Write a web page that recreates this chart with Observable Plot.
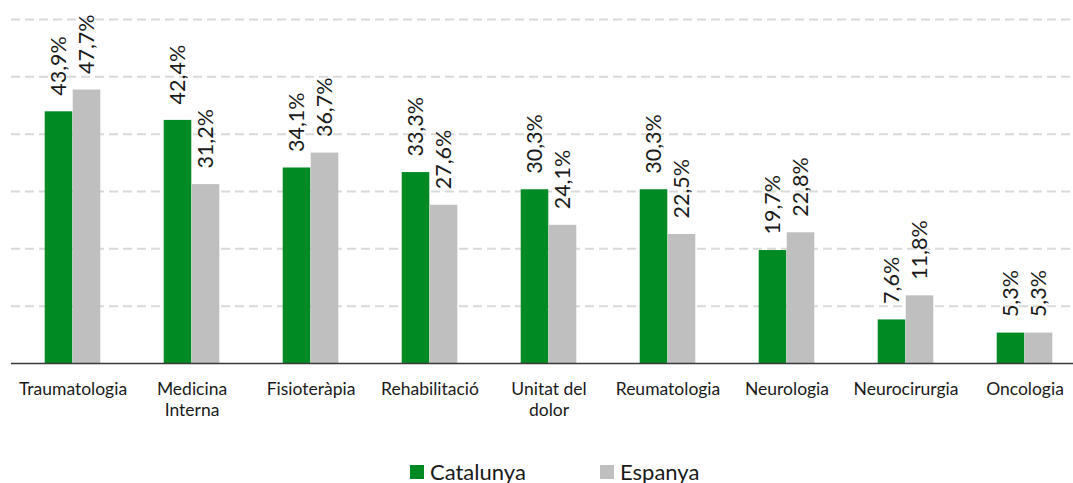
<!DOCTYPE html>
<html>
<head>
<meta charset="utf-8">
<script src="https://cdn.jsdelivr.net/npm/d3@7"></script>
<script src="https://cdn.jsdelivr.net/npm/@observablehq/plot@0.6"></script>
<style>
  html, body { margin: 0; padding: 0; background: #fff; overflow: hidden; width: 1073px; height: 483px; }
  #chart svg { display: block; overflow: hidden; }
  .legend { position: relative; height: 43px; font-family: Lato, "Open Sans", sans-serif; font-size: 22px; color: #1a1a1a; }
  .legend .item { position: absolute; top: 0; display: flex; align-items: center; height: 43px; padding-top: 20px; box-sizing: border-box; }
  .legend .sw { width: 14px; height: 14px; margin-right: 6px; }
</style>
</head>
<body>
<div id="chart"></div>
<div class="legend" id="legend"></div>
<script>
const categories = ["Traumatologia", "Medicina\nInterna", "Fisioteràpia", "Rehabilitació", "Unitat del\ndolor", "Reumatologia", "Neurologia", "Neurocirurgia", "Oncologia"];
const catalunya = [43.9, 42.4, 34.1, 33.3, 30.3, 30.3, 19.7, 7.6, 5.3];
const espanya = [47.7, 31.2, 36.7, 27.6, 24.1, 22.5, 22.8, 11.8, 5.3];
const seriesNames = ["Catalunya", "Espanya"];
const seriesColors = ["#008a23", "#bfbfbf"];
const gridTicks = [10, 20, 30, 40, 50, 60];

const rowsCat = categories.map((c, i) => ({cat: c, value: catalunya[i], series: seriesNames[0]}));
const rowsEsp = categories.map((c, i) => ({cat: c, value: espanya[i], series: seriesNames[1]}));
const fmt = v => v.toFixed(1).replace(".", ",") + "%";

const W = 1073, H = 440;
const bandStart = 11.3, bandEnd = 1086;
const bw = (bandEnd - bandStart) / categories.length;
const barW = 28;
const inner = bw / 2 - barW;

const plot = Plot.plot({
  width: W,
  height: H,
  marginTop: 19,
  marginBottom: 77,
  marginLeft: 11,
  marginRight: 0,
  style: {fontFamily: "Lato, 'Open Sans', sans-serif", color: "#1a1a1a", background: "#fff"},
  x: {domain: categories, range: [bandStart, bandEnd], padding: 0, axis: null},
  y: {domain: [0, 60], axis: null},
  color: {domain: seriesNames, range: seriesColors},
  marks: [
    Plot.ruleY(gridTicks, {stroke: "#d9d9d9", strokeWidth: 2, strokeDasharray: "9,5"}),
    Plot.barY(rowsCat, {x: "cat", y: "value", fill: "series", insetLeft: inner, insetRight: bw / 2}),
    Plot.barY(rowsEsp, {x: "cat", y: "value", fill: "series", insetLeft: bw / 2, insetRight: inner}),
    Plot.ruleY([0], {stroke: "#3a3a3a", strokeWidth: 1.5}),
    Plot.text(rowsCat, {x: "cat", y: "value", text: d => fmt(d.value), rotate: -90, textAnchor: "start", dx: -barW / 2, dy: -16, fontSize: 21.5, fill: "#1a1a1a"}),
    Plot.text(rowsEsp, {x: "cat", y: "value", text: d => fmt(d.value), rotate: -90, textAnchor: "start", dx: barW / 2, dy: -16, fontSize: 21.5, fill: "#1a1a1a"}),
    Plot.axisX({domain: categories, tickSize: 0, tickPadding: 17, fontSize: 17.5, lineHeight: 1.2, fill: "#1a1a1a", label: null})
  ]
});
document.getElementById("chart").appendChild(plot);

const legend = document.getElementById("legend");
const legendX = [410, 600];
seriesNames.forEach((name, i) => {
  const item = document.createElement("div");
  item.className = "item";
  item.style.left = legendX[i] + "px";
  const sw = document.createElement("span");
  sw.className = "sw";
  sw.style.background = seriesColors[i];
  const lab = document.createElement("span");
  lab.textContent = name;
  item.appendChild(sw);
  item.appendChild(lab);
  legend.appendChild(item);
});
</script>
</body>
</html>
